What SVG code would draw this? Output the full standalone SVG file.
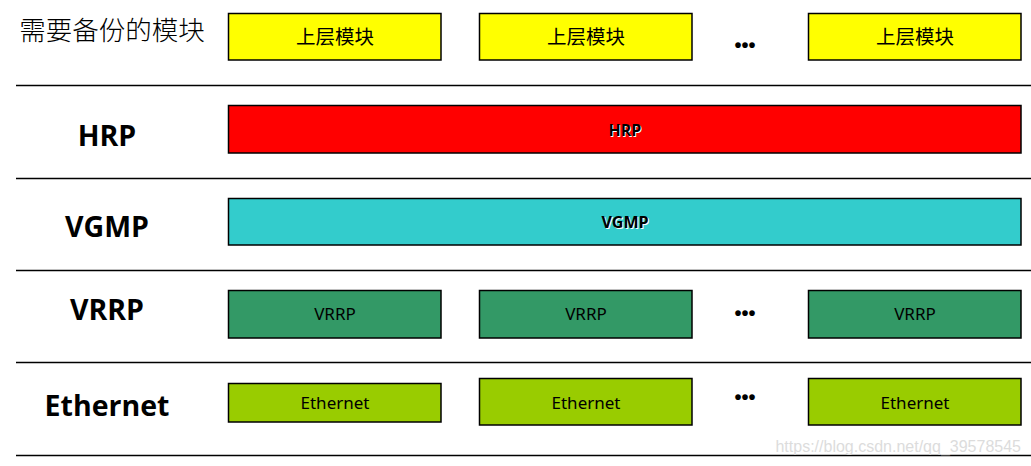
<svg xmlns="http://www.w3.org/2000/svg" width="1031" height="466" viewBox="0 0 1031 466">
<defs>
<style>
.box{stroke:#000;stroke-width:1.5}
.y{fill:#FFFF00}.r{fill:#FF0000}.c{fill:#33CCCC}.g{fill:#339966}.l{fill:#99CC00}
.sep{stroke:#000;stroke-width:1.3}
.lbl{font-family:"Open Sans","Noto Sans",sans-serif;font-weight:bold;font-size:28.5px;fill:#000;text-anchor:middle}
.cn{font-family:"Noto Sans CJK SC",sans-serif;fill:#000;text-anchor:middle}
.bt{font-family:"Noto Sans","Open Sans",sans-serif;font-size:17px;fill:#000;text-anchor:middle}
.bb{font-family:"Open Sans","Noto Sans",sans-serif;font-weight:bold;font-size:16px;fill:#000;text-anchor:middle}
.sh{fill:#fff}
.dots{font-family:"Liberation Sans",sans-serif;font-weight:bold;font-size:20px;fill:#000;text-anchor:middle}
</style>
</defs>
<rect width="1031" height="466" fill="#fff"/>
<g id="separators">
<line class="sep" x1="16" y1="85.5" x2="1031" y2="85.5"/>
<line class="sep" x1="16" y1="178.5" x2="1031" y2="178.5"/>
<line class="sep" x1="16" y1="270.5" x2="1031" y2="270.5"/>
<line class="sep" x1="16" y1="362.5" x2="1031" y2="362.5"/>
<line class="sep" x1="16" y1="455.5" x2="1031" y2="455.5"/>
</g>
<g id="labels">
<text class="cn" x="112" y="40" font-size="26.5" font-weight="300" fill="#222">需要备份的模块</text>
<text class="lbl" x="107" y="146">HRP</text>
<text class="lbl" x="107" y="237">VGMP</text>
<text class="lbl" x="107" y="320">VRRP</text>
<text class="lbl" x="107" y="416" font-size="27.5">Ethernet</text>
</g>
<g id="upper1"><rect class="box y" x="228.5" y="13.5" width="212.5" height="46.5"/><text class="cn" x="335" y="44" font-size="19.5">上层模块</text></g>
<g id="upper2"><rect class="box y" x="479.5" y="13.5" width="212.5" height="46.5"/><text class="cn" x="586" y="44" font-size="19.5">上层模块</text></g>
<text class="dots" x="745" y="52">•••</text>
<g id="upper3"><rect class="box y" x="808.5" y="13.5" width="212.5" height="46.5"/><text class="cn" x="915" y="44" font-size="19.5">上层模块</text></g>
<g id="hrp"><rect class="box r" x="228.5" y="105.5" width="792.5" height="47.5"/><text class="bb sh" x="626" y="137">HRP</text><text class="bb" x="625" y="136">HRP</text></g>
<g id="vgmp"><rect class="box c" x="228.5" y="198.5" width="792.5" height="46.5"/><text class="bb sh" x="626" y="229">VGMP</text><text class="bb" x="625" y="228">VGMP</text></g>
<g id="vrrp1"><rect class="box g" x="228.5" y="290.5" width="212.5" height="47.5"/><text class="bt" x="335" y="320">VRRP</text></g>
<g id="vrrp2"><rect class="box g" x="479.5" y="290.5" width="212.5" height="47.5"/><text class="bt" x="586" y="320">VRRP</text></g>
<text class="dots" x="745" y="320">•••</text>
<g id="vrrp3"><rect class="box g" x="808.5" y="290.5" width="212.5" height="47.5"/><text class="bt" x="915" y="320">VRRP</text></g>
<g id="eth1"><rect class="box l" x="228.5" y="383.5" width="212.5" height="38.5"/><text class="bt" x="335" y="409">Ethernet</text></g>
<g id="eth2"><rect class="box l" x="479.5" y="378.5" width="212.5" height="46.5"/><text class="bt" x="586" y="409">Ethernet</text></g>
<text class="dots" x="745" y="404">•••</text>
<g id="eth3"><rect class="box l" x="808.5" y="378.5" width="212.5" height="46.5"/><text class="bt" x="915" y="409">Ethernet</text></g>
<text x="1021" y="452" font-family="Liberation Sans,sans-serif" font-size="16" fill="#dcdcdc" text-anchor="end">https://blog.csdn.net/qq_39578545</text>
</svg>
